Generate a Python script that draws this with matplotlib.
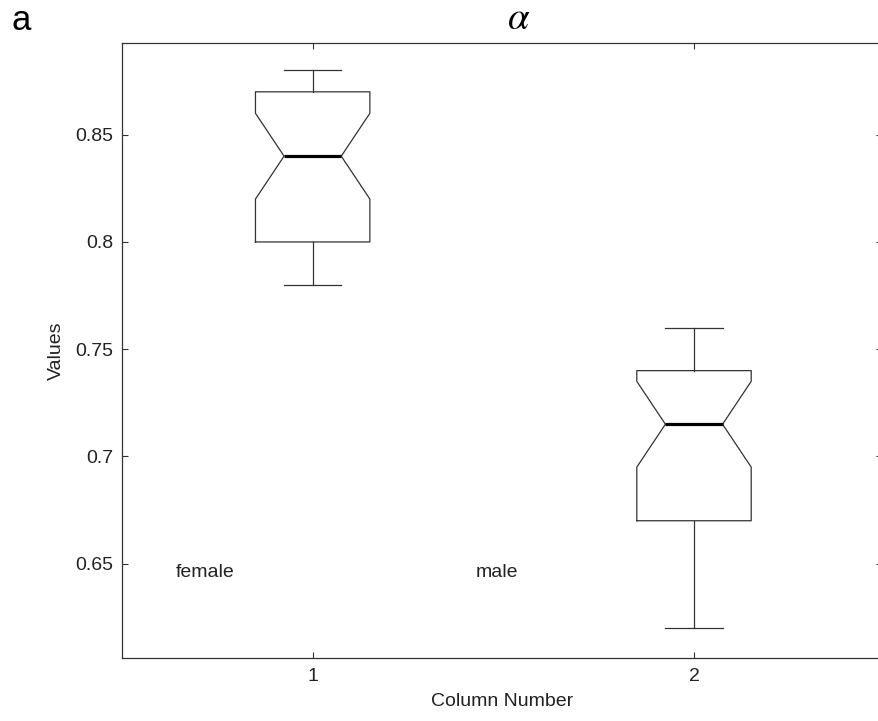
import matplotlib
matplotlib.use("Agg")
import matplotlib.pyplot as plt

plt.rcParams['font.family'] = ['Liberation Sans', 'DejaVu Sans']

# values
groups = ['female', 'male']
positions = [1, 2]
medians = [0.84, 0.715]
q1s = [0.80, 0.67]
q3s = [0.87, 0.74]
whisk_lo = [0.78, 0.62]
whisk_hi = [0.88, 0.76]
notch_lo = [0.82, 0.695]
notch_hi = [0.86, 0.735]
label_x = [0.642, 1.428]
label_y = 0.6459
yticks = [0.65, 0.7, 0.75, 0.8, 0.85]

stats = []
for i, g in enumerate(groups):
    stats.append({'label': g, 'med': medians[i], 'q1': q1s[i], 'q3': q3s[i],
                  'whislo': whisk_lo[i], 'whishi': whisk_hi[i],
                  'cilo': notch_lo[i], 'cihi': notch_hi[i], 'fliers': []})

fig = plt.figure(figsize=(8.79, 7.21), dpi=100)
ax = fig.add_axes([122/879, 1-658/721, (882-122)/879, (658-42.5)/721])

line_col = '#333333'
ax.bxp(stats, positions=positions, widths=0.3, shownotches=True, showfliers=False,
       boxprops=dict(color=line_col, linewidth=0.9),
       whiskerprops=dict(color=line_col, linewidth=0.9, linestyle='-'),
       capprops=dict(color=line_col, linewidth=0.9),
       medianprops=dict(color='black', linewidth=2.3))

for i, g in enumerate(groups):
    ax.text(label_x[i], label_y, g, ha='left', va='center', fontsize=14, color='#222222')

ax.set_xlim(0.5, 2.493)
ax.set_ylim(0.606, 0.893)
ax.set_xticks(positions)
ax.set_xticklabels(['1', '2'])
ax.set_yticks(yticks)
ax.set_yticklabels(['0.65', '0.7', '0.75', '0.8', '0.85'])
ax.tick_params(direction='in', length=4.3, width=0.8, top=True, right=True,
               labelsize=14, labelcolor='#222222', color='#333333')
ax.tick_params(axis='y', pad=6)
ax.tick_params(axis='x', pad=7)
for s in ax.spines.values():
    s.set_color('#333333')
    s.set_linewidth(0.9)

ax.set_xlabel('Column Number', fontsize=14, color='#222222', labelpad=6)
ax.set_ylabel('Values', fontsize=14, color='#222222', labelpad=8)

fig.text(519/879, 1-29/721, r'$\alpha$', ha='center', va='baseline', fontsize=28,
         math_fontfamily='stix')
fig.text(12/879, 1-30/721, 'a', ha='left', va='baseline', fontsize=25)

fig.savefig('out.png', dpi=100)
